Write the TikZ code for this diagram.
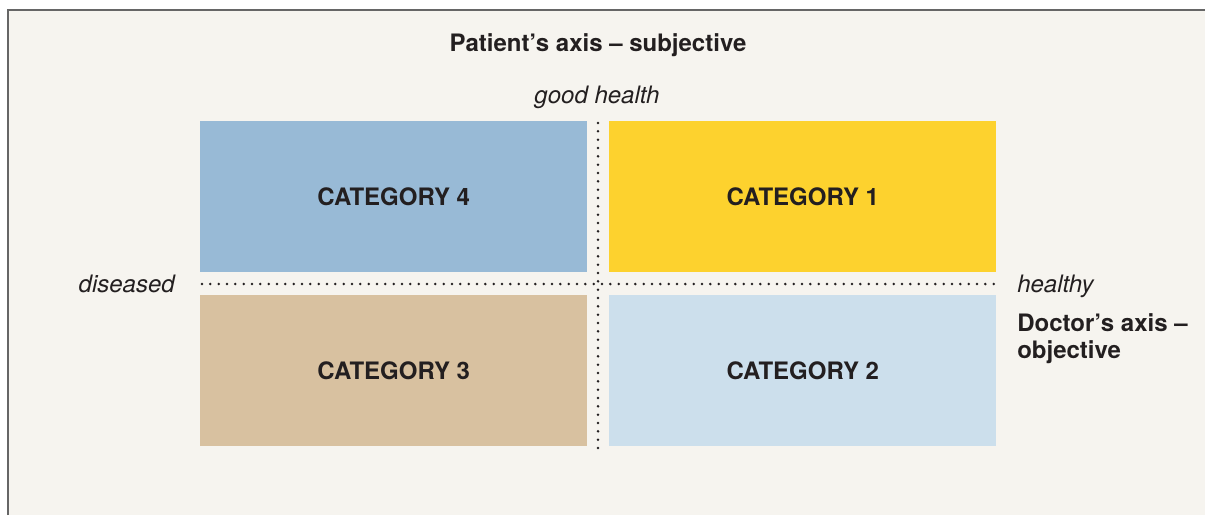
\documentclass[tikz,border=0pt]{standalone}
\usepackage{fontspec}
\setmainfont{TeX Gyre Heros}
\definecolor{bgcream}{HTML}{F6F4EF}
\definecolor{catblue}{HTML}{98BAD6}
\definecolor{catyellow}{HTML}{FDD22E}
\definecolor{cattan}{HTML}{D8C1A0}
\definecolor{catpale}{HTML}{CCDFEC}
\definecolor{inkgray}{HTML}{231F20}
\tikzset{
  catbox/.style={minimum width=387*0.75pt,minimum height=151*0.75pt,inner sep=0pt,font=\bfseries\fontsize{18}{21}\selectfont,text=inkgray},
  axislbl/.style={font=\itshape\fontsize{18}{21}\selectfont,text=inkgray,inner sep=0pt},
  dotline/.style={line width=2.1pt,line cap=round,dash pattern=on 0pt off 6.25pt,inkgray}
}
\begin{document}
\begin{tikzpicture}[x=0.75pt,y=-0.75pt]
            \useasboundingbox (0,0) rectangle (1205,515);
            \fill[bgcream] (8,10) rectangle (1205,515);
            \draw[line width=1.5pt,gray!80!black] (8,515) -- (8,10) -- (1205,10);
            \node[catbox,fill=catblue,anchor=north west] (cat4) at (200,121) {CATEGORY 4};
            \node[catbox,fill=catyellow,anchor=north west] (cat1) at (609,121) {CATEGORY 1};
            \node[catbox,fill=cattan,anchor=north west] (cat3) at (200,295) {CATEGORY 3};
            \node[catbox,fill=catpale,anchor=north west] (cat2) at (609,295) {CATEGORY 2};
            \coordinate (left) at (202,284);
            \coordinate (right) at (994,284);
            \coordinate (top) at (598,123);
            \coordinate (bottom) at (598,450);
            \draw[dotline] (left) -- (right);
            \draw[dotline] (top) -- (bottom);
            \node[axislbl,anchor=east] (diseased) at (175,284) {diseased};
            \node[axislbl,anchor=west] (healthy) at (1017,286) {healthy};
            \node[axislbl] (good) at (597,97.5) {good health};
            \node[font=\bfseries\fontsize{18}{21}\selectfont,text=inkgray,inner sep=0pt] (patient) at (598,45) {Patient’s axis – subjective};
            \node[font=\bfseries\fontsize{18}{20.5}\selectfont,text=inkgray,inner sep=0pt,anchor=north west,align=left] (doctor) at (1017,313) {Doctor’s axis –\\objective};
        \end{tikzpicture}
\end{document}
